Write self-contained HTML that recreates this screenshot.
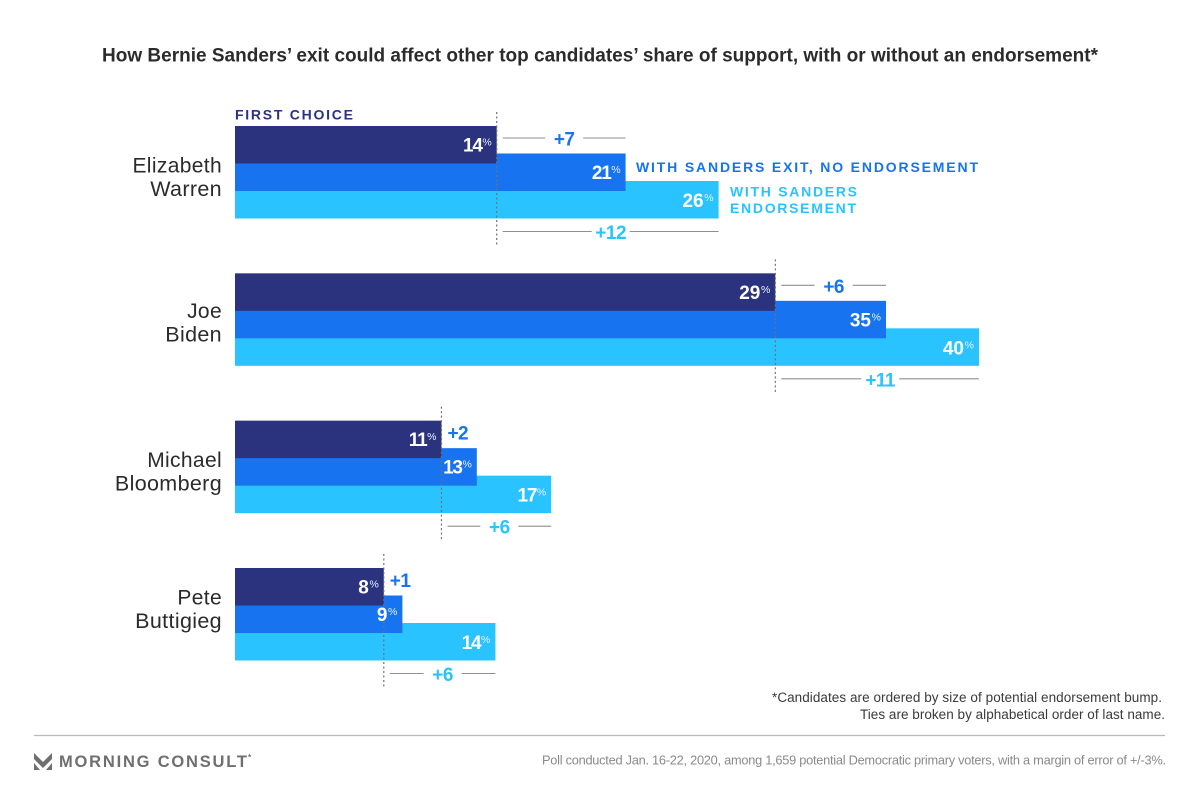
<!DOCTYPE html>
<html lang="en">
<head>
<meta charset="utf-8">
<title>Bernie Sanders exit chart</title>
<style>
html,body{margin:0;padding:0;background:#fff;}
body{width:1200px;height:787px;overflow:hidden;}
svg{display:block;font-family:"Liberation Sans",sans-serif;}
</style>
</head>
<body>
<svg id="chart" xmlns="http://www.w3.org/2000/svg" width="1200" height="787" viewBox="0 0 1200 787">
  <rect x="0" y="0" width="1200" height="787" fill="#ffffff"/>
  <text x="102" y="61.5" font-size="19" font-weight="700" fill="#2b2b2b" textLength="996" lengthAdjust="spacing">How Bernie Sanders’ exit could affect other top candidates’ share of support, with or without an endorsement*</text>

  <g id="marks"></g>

  <text x="235" y="119.5" font-size="14" font-weight="700" fill="#2b337e" textLength="118" lengthAdjust="spacing">FIRST CHOICE</text>
  <text x="636" y="172" font-size="14" font-weight="700" fill="#1773f0" textLength="342" lengthAdjust="spacing">WITH SANDERS EXIT, NO ENDORSEMENT</text>
  <text x="730" y="196.5" font-size="14" font-weight="700" fill="#29c4ff" textLength="127" lengthAdjust="spacing">WITH SANDERS</text>
  <text x="730" y="213" font-size="14" font-weight="700" fill="#29c4ff" textLength="126" lengthAdjust="spacing">ENDORSEMENT</text>

  <text x="772" y="702" font-size="13.5" fill="#3a3a3a" textLength="390" lengthAdjust="spacing">*Candidates are ordered by size of potential endorsement bump.</text>
  <text x="860" y="719" font-size="13.5" fill="#3a3a3a" textLength="305" lengthAdjust="spacing">Ties are broken by alphabetical order of last name.</text>

  <line x1="34" y1="735.5" x2="1165" y2="735.5" stroke="#b9b9b9" stroke-width="1.2"/>

  <g>
    <path d="M34 753 L43 762 L52 753 L52 759 L43 768 L34 759 Z M34 763 L40 770 L34 770 Z M52 763 L46 770 L52 770 Z" fill="#6f6f6f"/>
    <text x="59" y="767" font-size="16.5" font-weight="700" fill="#6f6f6f" textLength="188" lengthAdjust="spacing">MORNING CONSULT</text>
    <text x="248" y="760" font-size="8" font-weight="700" fill="#6f6f6f">*</text>
  </g>
  <text x="542" y="764.5" font-size="12.8" fill="#8a8a8a" textLength="624" lengthAdjust="spacing">Poll conducted Jan. 16-22, 2020, among 1,659 potential Democratic primary voters, with a margin of error of +/-3%.</text>
</svg>

<script>
const candidates = [["Elizabeth", "Warren"], ["Joe", "Biden"], ["Michael", "Bloomberg"], ["Pete", "Buttigieg"]];
const firstChoice = [14.07, 29.05, 11.1, 8];
const noEndorsement = [21, 35, 13, 9];
const withEndorsement = [26, 40, 17, 14];

const SVG_NS = "http://www.w3.org/2000/svg";
const marks = document.getElementById("marks");
const COLOR_FIRST = "#2b337e";
const COLOR_MID = "#1773f0";
const COLOR_LIGHT = "#29c4ff";

function xScale(v) { return 235 + v * 18.6; }
function rowTop(i) { return 126 + i * 147.33; }
const nameShift = [0, -2, 0, -10];

function node(tag, attrs, text) {
  const el = document.createElementNS(SVG_NS, tag);
  for (const k in attrs) el.setAttribute(k, attrs[k]);
  if (text !== undefined) el.textContent = text;
  marks.appendChild(el);
  return el;
}

function drawValue(value, y) {
  const right = xScale(value) - 5;
  const pct = node("text", { x: right, y: y - 6, "font-size": 10.5, "font-weight": 400, fill: "#e8f2ff", "text-anchor": "end" }, "%");
  
  
  const str = String(Math.round(value));
  const spacing = str.indexOf("1") >= 0 ? "-1.2" : "0";
  const num = node("text", { x: right - 10, y: y, "font-size": 19, "font-weight": 700, fill: "#ffffff", "text-anchor": "end", "letter-spacing": spacing }, str);
  
  
}

function drawBar(value, y, h, fill) {
  const r = node("rect", { x: xScale(0), y: y, width: xScale(value) - xScale(0), height: h, fill: fill });
  
  
}

function drawDelta(from, to, y, color) {
  const delta = Math.round(to - from);
  const start = xScale(from) + 6;
  const end = xScale(to);
  if (end - start < 60) {
    const small = node("text", { x: start, y: y + 7, "font-size": 19, "font-weight": 700, fill: color, "letter-spacing": "-0.5" }, "+" + delta);
    
    
    return;
  }
  const mid = (start + end) / 2;
  const left = node("line", { x1: start, y1: y, x2: mid - 19, y2: y, stroke: "#8f8f8f", "stroke-width": 1.1 });
  
  
  const right = node("line", { x1: mid + 19, y1: y, x2: end, y2: y, stroke: "#8f8f8f", "stroke-width": 1.1 });
  
  
  const label = node("text", { x: mid, y: y + 7.5, "font-size": 19, "font-weight": 700, fill: color, "text-anchor": "middle", "letter-spacing": "-0.5" }, "+" + delta);
  
  
}

candidates.forEach(function (name, i) {
  const top = rowTop(i);

  const n1 = node("text", { x: 222, y: top + 46.5 + nameShift[i], "font-size": 21, fill: "#2b2b2b", "text-anchor": "end", "letter-spacing": "0.35" }, name[0]);
  
  
  const n2 = node("text", { x: 222, y: top + 70 + nameShift[i], "font-size": 21.5, fill: "#2b2b2b", "text-anchor": "end", "letter-spacing": "0.35" }, name[1]);
  
  

  drawBar(withEndorsement[i], top + 55, 37.5, COLOR_LIGHT);
  drawBar(noEndorsement[i], top + 27.5, 37.5, COLOR_MID);
  drawBar(firstChoice[i], top, 37.5, COLOR_FIRST);

  const x = xScale(firstChoice[i]);
  const ref = node("line", { x1: x, y1: top - 14, x2: x, y2: top + 121, stroke: "#70707c", "stroke-width": 1.2, "stroke-dasharray": "2 2.5" });
  
  

  drawValue(withEndorsement[i], top + 81);
  drawValue(noEndorsement[i], top + 53);
  drawValue(firstChoice[i], top + 25.5);

  drawDelta(firstChoice[i], noEndorsement[i], top + 12, COLOR_MID);
  drawDelta(firstChoice[i], withEndorsement[i], top + 105.5, COLOR_LIGHT);
});
</script>
</body>
</html>
